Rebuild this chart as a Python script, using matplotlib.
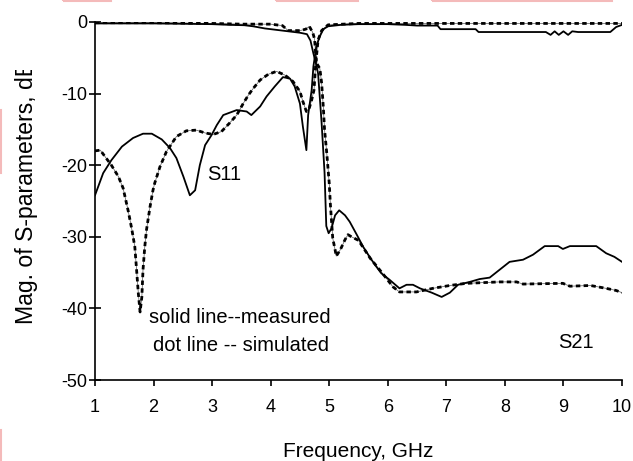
import matplotlib
matplotlib.use("Agg")
import matplotlib.pyplot as plt
from matplotlib.patches import Rectangle
from matplotlib.transforms import Bbox, TransformedBbox

plt.rcParams['font.family'] = ['Liberation Sans', 'DejaVu Sans']
plt.rcParams['axes.unicode_minus'] = False

# ---- data ----
s21_meas_f = [1.0, 1.5, 2.0, 2.5, 3.0, 3.3, 3.55, 3.7, 3.9, 4.1, 4.3, 4.5, 4.62, 4.68, 4.73,
              4.78, 4.81, 4.87, 4.92, 4.95, 4.99, 5.04, 5.10, 5.17, 5.27, 5.35, 5.47, 5.58,
              5.69, 5.78, 5.89, 6.03, 6.20, 6.32, 6.43, 6.55, 6.75, 6.92, 7.06, 7.20, 7.40,
              7.57, 7.74, 7.91, 8.08, 8.31, 8.48, 8.68, 8.91, 8.99, 9.11, 9.56, 9.73, 9.87, 10.0]
s21_meas = [-0.2, -0.2, -0.2, -0.25, -0.3, -0.4, -0.45, -0.6, -0.9, -1.1, -1.3, -1.5, -1.7, -2.6, -4.4,
            -6.0, -7.2, -14.1, -21.0, -28.5, -29.5, -28.8, -27.0, -26.3, -27.0, -27.9, -29.7, -31.4,
            -32.8, -33.9, -35.1, -36.0, -37.2, -36.7, -36.7, -37.2, -37.8, -38.4, -37.8, -36.7, -36.3,
            -35.9, -35.7, -34.6, -33.5, -33.2, -32.5, -31.3, -31.3, -31.7, -31.3, -31.3, -32.3, -32.8, -33.5]

s11_meas_f = [1.0, 1.14, 1.28, 1.46, 1.65, 1.82, 1.97, 2.14, 2.28, 2.39, 2.51, 2.62, 2.71, 2.79,
              2.88, 2.99, 3.08, 3.19, 3.42, 3.59, 3.67, 3.82, 3.93, 4.07, 4.21, 4.33, 4.41, 4.50,
              4.55, 4.61, 4.64, 4.70, 4.73, 4.78, 4.84, 4.90, 4.98, 5.2, 5.5, 6.0, 6.3, 6.5, 6.85,
              6.9, 7.5, 7.55, 8.7, 8.78, 8.85, 8.92, 9.0, 9.08, 9.15, 9.25, 9.8, 9.9, 10.0]
s11_meas = [-24.2, -21.1, -19.3, -17.4, -16.2, -15.6, -15.6, -16.4, -17.6, -19.0, -21.6, -24.2, -23.5, -20.0,
            -17.2, -15.8, -14.4, -13.0, -12.3, -12.5, -13.0, -11.8, -10.4, -9.0, -7.7, -7.9, -9.0, -11.4,
            -14.6, -17.9, -13.0, -9.5, -6.2, -3.4, -2.0, -1.0, -0.6, -0.4, -0.3, -0.3, -0.4, -0.5, -0.5,
            -1.0, -1.0, -1.4, -1.4, -1.8, -1.3, -1.8, -1.3, -1.8, -1.3, -1.4, -1.4, -0.7, -0.4]

s11_sim_f = [1.0, 1.09, 1.28, 1.40, 1.48, 1.57, 1.63, 1.68, 1.71, 1.74, 1.77, 1.80, 1.82, 1.85,
             1.88, 1.94, 1.99, 2.02, 2.11, 2.22, 2.39, 2.56, 2.73, 2.88, 3.02, 3.16, 3.30, 3.42,
             3.53, 3.62, 3.70, 3.82, 3.96, 4.10, 4.24, 4.38, 4.50, 4.55, 4.61, 4.66, 4.70, 4.74,
             4.77, 4.81, 4.87, 4.98, 5.5, 6.0, 7.0, 8.0, 9.0, 10.0]
s11_sim = [-18.0, -17.9, -20.0, -21.6, -23.2, -26.5, -29.0, -31.4, -34.6, -37.9, -40.5, -38.4, -34.6, -31.4,
           -29.0, -25.8, -23.5, -22.5, -20.2, -18.1, -16.0, -15.2, -15.1, -15.5, -15.7, -15.3, -14.1, -13.0,
           -11.4, -10.2, -9.3, -8.1, -7.3, -6.9, -7.4, -8.3, -9.7, -11.1, -12.5, -12.0, -10.9, -9.5,
           -5.8, -2.5, -1.2, -0.4, -0.2, -0.2, -0.2, -0.2, -0.2, -0.2]

s21_sim_f = [1.0, 2.0, 3.0, 3.5, 4.0, 4.2, 4.3, 4.5, 4.6, 4.66, 4.72, 4.75, 4.78, 4.84, 4.87, 4.90,
             4.92, 4.96, 4.98, 5.0, 5.02, 5.06, 5.10, 5.12, 5.19, 5.27, 5.32, 5.38, 5.5, 5.7, 5.9,
             6.09, 6.2, 6.49, 6.77, 7.06, 7.34, 7.91, 8.2, 8.31, 8.99, 9.11, 9.46, 9.73, 9.9, 10.0]
s21_sim = [-0.1, -0.1, -0.2, -0.3, -0.3, -0.5, -1.2, -1.2, -1.0, -0.6, -1.5, -2.4, -5.7, -6.5, -8.5, -12.0,
           -15.0, -18.5, -20.5, -22.5, -25.5, -30.2, -31.8, -32.7, -31.8, -30.4, -29.7, -30.0, -30.5, -33.0, -35.0,
           -37.0, -37.7, -37.7, -37.2, -36.8, -36.5, -36.3, -36.3, -36.6, -36.5, -36.9, -36.8, -37.2, -37.5, -37.8]

x_ticks = [1, 2, 3, 4, 5, 6, 7, 8, 9, 10]
y_ticks = [0, -10, -20, -30, -40, -50]
y_tick_labels = ["0", "-10", "-20", "-30", "-40", "-50"]

W, H = 633, 461
fig = plt.figure(figsize=(W / 100, H / 100), dpi=100)
ax = fig.add_axes([95 / W, 1 - 380 / H, (622 - 95) / W, (380 - 22) / H])

dot_style = dict(color='black', lw=2.0, linestyle=(0, (1.6, 1.2)))
thin_style = dict(color='#555555', lw=0.5)

ax.plot(s11_sim_f, s11_sim, **thin_style)
ax.plot(s21_sim_f, s21_sim, **thin_style)
ax.plot(s11_sim_f, s11_sim, **dot_style)
ax.plot(s21_sim_f, s21_sim, **dot_style)
ax.plot(s11_meas_f, s11_meas, color='black', lw=1.3)
ax.plot(s21_meas_f, s21_meas, color='black', lw=1.3)

ax.set_xlim(1, 10)
ax.set_ylim(-50, 0)
ax.set_xticks(x_ticks)
ax.set_xticklabels([str(v) for v in x_ticks])
ax.set_yticks(y_ticks)
ax.set_yticklabels(y_tick_labels)
for s in ['top', 'right']:
    ax.spines[s].set_visible(False)
for s in ['left', 'bottom']:
    ax.spines[s].set_linewidth(1.2)
ax.tick_params(axis='y', direction='inout', length=8, width=1.2, labelsize=13, pad=1.5)
ax.tick_params(axis='x', direction='out', length=4.5, width=1.2, labelsize=13, pad=9)
ax.patch.set_visible(False)

ax.text(2.91, -21.3, "S11", fontsize=14.5, ha='left', va='center')
ax.text(3.47, -41.3, "solid line--measured", fontsize=14.5, ha='center', va='center')
ax.text(3.49, -45.2, "dot line -- simulated", fontsize=14.5, ha='center', va='center')
ax.text(9.22, -44.8, "S21", fontsize=14.5, ha='center', va='center')

fig.text(358 / W, 1 - 451 / H, "Frequency, GHz", fontsize=15, ha='center', va='center')
clip = TransformedBbox(Bbox([[0, 0], [1, 1 - 70 / H]]), fig.transFigure)
yl = fig.text(27 / W, 1 - 192 / H, "Mag. of S-parameters, dB", fontsize=16.6, rotation=90,
              ha='center', va='center', clip_on=True)
yl.set_clip_box(clip)

pink = '#f4baba'
def px_rect(x0, y0, x1, y1):
    r = Rectangle((x0 / W, 1 - y1 / H), (x1 - x0) / W, (y1 - y0) / H, transform=fig.transFigure,
                  fill=False, ec=pink, lw=1.5, clip_on=False)
    fig.add_artist(r)

px_rect(63, -30, 111, 1.5)
px_rect(276, -30, 358, 1.5)
px_rect(432, -30, 612, 1.5)
px_rect(-40, 110, 1.2, 173)
px_rect(-40, 430, 1.2, 520)

fig.savefig("out.png", dpi=100)
